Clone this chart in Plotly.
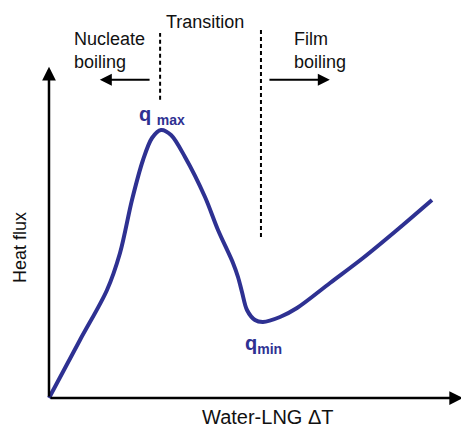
import plotly.graph_objects as go

# Boiling curve: heat flux vs. water-LNG temperature difference (arbitrary units)
delta_t = [0.0, 0.756, 1.415, 1.732, 2.024, 2.293, 2.512, 2.732, 2.976, 3.317,
           3.805, 4.122, 4.488, 4.610, 4.707, 4.829, 5.024, 5.220, 5.634, 6.049,
           6.854, 7.659, 8.488, 9.341]
heat_flux = [0.0, 1.768, 3.293, 4.421, 6.037, 7.256, 7.927, 8.171, 8.018, 7.348,
             6.128, 5.122, 4.116, 3.689, 3.232, 2.683, 2.378, 2.317, 2.470, 2.744,
             3.506, 4.268, 5.122, 6.037]

# Regime boundaries (delta T) and labels
boundary_x = [2.71, 5.17]
boundary_top = [11.13, 11.28]
boundary_bottom = [9.09, 4.91]
regime_labels = ["Nucleate<br>boiling", "Transition", "Film<br>boiling"]
x_title = "Water-LNG \u0394T"
y_title = "Heat flux"

CURVE = "#2E3192"
FONT = "Liberation Sans, Arial, sans-serif"

fig = go.Figure()

fig.add_trace(go.Scatter(
    x=delta_t, y=heat_flux, mode="lines",
    line=dict(color=CURVE, width=4, shape="spline", smoothing=0.9),
    hoverinfo="skip", showlegend=False,
))

for bx, bt, bb in zip(boundary_x, boundary_top, boundary_bottom):
    fig.add_trace(go.Scatter(
        x=[bx, bx], y=[bb, bt], mode="lines",
        line=dict(color="black", width=2, dash="4px,3px"),
        hoverinfo="skip", showlegend=False,
    ))

ann = []

# Axes drawn as arrows from the origin
ann.append(dict(x=10.1, y=0, ax=0, ay=0, xref="x", yref="y", axref="x", ayref="y",
                text="", showarrow=True, arrowhead=2, arrowsize=1.1,
                arrowwidth=2.5, arrowcolor="black"))
ann.append(dict(x=0, y=10.1, ax=0, ay=0, xref="x", yref="y", axref="x", ayref="y",
                text="", showarrow=True, arrowhead=2, arrowsize=1.1,
                arrowwidth=2.5, arrowcolor="black"))

# Regime direction arrows
ann.append(dict(x=1.24, y=9.70, ax=2.49, ay=9.70, xref="x", yref="y", axref="x", ayref="y",
                text="", showarrow=True, arrowhead=2, arrowsize=1.2,
                arrowwidth=2, arrowcolor="black"))
ann.append(dict(x=6.85, y=9.70, ax=5.34, ay=9.70, xref="x", yref="y", axref="x", ayref="y",
                text="", showarrow=True, arrowhead=2, arrowsize=1.2,
                arrowwidth=2, arrowcolor="black"))

label_font = dict(family=FONT, size=18, color="#111111")
ann.append(dict(x=0.56, y=10.58, text=regime_labels[0], showarrow=False,
                xanchor="left", yanchor="middle", align="left", font=label_font))
ann.append(dict(x=3.80, y=11.46, text=regime_labels[1], showarrow=False,
                xanchor="center", yanchor="middle", font=label_font))
ann.append(dict(x=5.93, y=10.58, text=regime_labels[2], showarrow=False,
                xanchor="left", yanchor="middle", align="left", font=label_font))

# Axis titles
ann.append(dict(x=5.34, y=-0.58, text=x_title, showarrow=False,
                xanchor="center", yanchor="middle",
                font=dict(family=FONT, size=20, color="#111111")))
ann.append(dict(x=-0.71, y=4.60, text=y_title, showarrow=False, textangle=-90,
                xanchor="center", yanchor="middle",
                font=dict(family=FONT, size=18, color="#111111")))

# Critical point labels
q_font = dict(family=FONT, size=20, color=CURVE)
ann.append(dict(x=2.76, y=8.62, text="<b>q <sub>max</sub></b>", showarrow=False,
                xanchor="center", yanchor="middle", font=q_font))
ann.append(dict(x=5.22, y=1.62, text="<b>q<sub>min</sub></b>", showarrow=False,
                xanchor="center", yanchor="middle", font=q_font))

fig.update_layout(
    width=461, height=429,
    margin=dict(l=0, r=0, t=0, b=0),
    paper_bgcolor="white", plot_bgcolor="white",
    xaxis=dict(range=[-1.195, 10.049], visible=False, fixedrange=True),
    yaxis=dict(range=[-0.945, 12.134], visible=False, fixedrange=True),
    annotations=ann,
    showlegend=False,
)

fig.write_html("out.html")
